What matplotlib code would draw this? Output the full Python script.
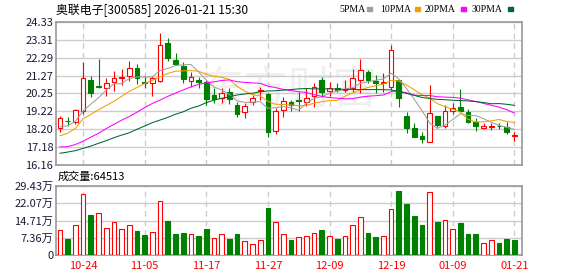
import matplotlib
matplotlib.use("Agg")
import matplotlib.pyplot as plt

plt.rcParams['font.family'] = ['Noto Sans CJK SC', 'DejaVu Sans']

# daily candles, 60 sessions
opens = [18.29, 18.70, 18.63, 19.24, 21.02, 20.68, 20.54, 20.92, 21.13, 21.26,
         21.68, 20.92, 20.83, 20.98, 23.11, 22.16, 21.83, 20.98, 21.02, 20.92,
         20.16, 19.99, 20.31, 19.59, 19.20, 19.78, 20.39, 20.22, 18.10, 19.30,
         19.76, 19.85, 19.78, 20.10, 21.02, 20.39, 20.58, 20.44, 20.58, 21.02,
         21.47, 20.98, 20.83, 20.63, 21.02, 18.98, 18.29, 17.81, 17.49, 18.98,
         18.40, 19.24, 19.45, 19.17, 18.60, 18.26, 18.34, 18.38, 18.31, 17.80]
highs = [18.97, 18.92, 19.38, 22.04, 21.24, 22.20, 21.13, 21.53, 21.64, 22.08,
         21.91, 21.24, 21.24, 23.72, 23.43, 22.58, 22.03, 21.49, 21.20, 21.02,
         20.54, 20.58, 20.54, 19.74, 19.68, 20.16, 20.63, 20.26, 19.40, 20.06,
         19.87, 20.35, 20.54, 20.83, 21.20, 20.92, 20.86, 21.02, 21.63, 22.20,
         21.59, 21.30, 21.43, 23.02, 21.02, 19.20, 18.58, 18.03, 20.73, 18.98,
         19.59, 19.68, 20.50, 19.34, 18.83, 18.54, 18.54, 18.54, 18.63, 18.03]
lows = [18.06, 18.39, 18.49, 19.06, 20.04, 20.58, 20.10, 20.39, 20.73, 20.96,
        20.77, 20.58, 20.12, 20.92, 22.12, 21.87, 20.86, 20.63, 20.56, 19.57,
        19.68, 19.68, 19.64, 18.92, 18.86, 19.59, 19.87, 17.74, 17.95, 18.88,
        19.26, 19.26, 19.53, 19.49, 20.06, 20.10, 20.35, 20.35, 20.35, 20.29,
        20.83, 20.26, 20.35, 20.44, 19.49, 17.99, 17.74, 17.43, 17.49, 18.31,
        18.26, 19.07, 19.24, 18.58, 18.10, 18.22, 18.16, 18.22, 17.93, 17.55]
closes = [18.83, 18.65, 19.30, 21.11, 20.29, 20.64, 20.84, 21.11, 21.17, 21.72,
          21.11, 20.86, 21.11, 23.02, 22.29, 21.93, 21.09, 21.17, 20.92, 19.93,
          19.93, 20.26, 19.93, 19.07, 19.53, 19.97, 20.41, 18.03, 19.26, 19.82,
          19.60, 19.81, 19.97, 20.63, 20.31, 20.58, 20.45, 20.46, 21.11, 21.57,
          21.02, 20.83, 20.85, 22.73, 19.97, 18.29, 17.78, 17.63, 19.11, 18.44,
          19.24, 19.40, 19.24, 18.63, 18.40, 18.39, 18.36, 18.36, 18.06, 17.82]

ma5 = [18.35, 18.40, 18.65, 19.25, 19.64, 20.00, 20.44, 20.80, 20.81, 21.10,
       21.19, 21.19, 21.19, 21.56, 21.68, 21.84, 21.89, 21.90, 21.48, 21.01,
       20.61, 20.44, 20.19, 19.82, 19.74, 19.75, 19.78, 19.40, 19.44, 19.50,
       19.42, 19.30, 19.69, 19.97, 20.06, 20.26, 20.39, 20.49, 20.58, 20.83,
       20.92, 21.00, 21.08, 21.40, 21.08, 20.53, 19.92, 19.28, 18.56, 18.25,
       18.44, 18.76, 19.09, 18.99, 18.98, 18.81, 18.60, 18.43, 18.31, 18.20]
ma10 = [17.83, 17.97, 18.26, 18.80, 19.05, 19.32, 19.55, 19.80, 20.08, 20.37,
        20.59, 20.82, 21.00, 21.19, 21.39, 21.52, 21.54, 21.55, 21.52, 21.34,
        21.23, 21.17, 21.05, 20.65, 20.38, 20.18, 20.11, 19.80, 19.63, 19.62,
        19.59, 19.54, 19.55, 19.70, 19.78, 19.84, 19.85, 20.09, 20.27, 20.45,
        20.59, 20.69, 20.78, 20.99, 20.96, 20.73, 20.46, 20.18, 19.98, 19.67,
        19.49, 19.34, 19.18, 18.77, 18.62, 18.63, 18.68, 18.76, 18.65, 18.59]
ma20 = [17.19, 17.21, 17.33, 17.52, 17.75, 17.97, 18.24, 18.48, 18.72, 18.93,
        19.18, 19.44, 19.68, 19.87, 20.08, 20.27, 20.45, 20.62, 20.77, 20.85,
        20.91, 20.99, 21.02, 20.92, 20.88, 20.85, 20.83, 20.67, 20.58, 20.48,
        20.41, 20.35, 20.30, 20.18, 20.08, 20.01, 19.98, 19.94, 19.95, 20.04,
        20.09, 20.12, 20.16, 20.35, 20.37, 20.29, 20.15, 20.13, 20.13, 20.06,
        20.04, 20.02, 19.98, 19.88, 19.79, 19.68, 19.57, 19.47, 19.32, 19.13]
ma30 = [16.83, 16.90, 16.98, 17.11, 17.24, 17.40, 17.55, 17.72, 17.87, 18.00,
        18.20, 18.39, 18.58, 18.73, 18.88, 19.06, 19.20, 19.40, 19.53, 19.72,
        19.87, 19.97, 20.06, 20.16, 20.22, 20.26, 20.35, 20.39, 20.40, 20.44,
        20.47, 20.51, 20.53, 20.51, 20.51, 20.51, 20.50, 20.48, 20.48, 20.47,
        20.47, 20.47, 20.46, 20.45, 20.37, 20.25, 20.14, 20.02, 19.96, 19.91,
        19.89, 19.86, 19.84, 19.82, 19.78, 19.73, 19.66, 19.67, 19.63, 19.57]

# volume in 万
volumes = [10.5, 6.8, 13.0, 26.2, 17.0, 18.1, 11.7, 13.9, 10.9, 13.0,
           10.2, 8.5, 10.0, 23.2, 14.4, 8.9, 9.5, 8.8, 8.1, 11.0,
           7.1, 8.8, 6.8, 8.9, 5.9, 4.7, 6.2, 19.9, 13.9, 8.8,
           6.4, 7.5, 8.3, 9.2, 10.6, 8.3, 6.8, 7.9, 13.0, 16.0,
           9.5, 7.6, 8.3, 19.8, 27.2, 21.6, 16.5, 12.7, 26.9, 14.0,
           15.1, 11.3, 13.6, 8.9, 8.9, 5.0, 6.2, 5.1, 6.8, 6.4]
vol_up = [1, 0, 1, 1, 0, 1, 1, 1, 1, 1, 0, 0, 1, 1, 0, 0, 0, 1, 0, 0,
          1, 1, 0, 0, 1, 1, 1, 0, 1, 1, 0, 1, 1, 1, 0, 1, 0, 1, 1, 1,
          0, 0, 1, 1, 0, 0, 0, 0, 1, 0, 1, 1, 0, 0, 0, 1, 1, 0, 0, 0]

date_pos = [3, 11, 19, 27, 35, 43, 51, 59]
date_labels = ['10-24', '11-05', '11-17', '11-27', '12-09', '12-19', '01-09', '01-21']
price_ticks = [16.16, 17.18, 18.20, 19.22, 20.25, 21.27, 22.29, 23.31, 24.33]
vol_ticks = [0, 7.36, 14.71, 22.07, 29.43]
vol_labels = ['0', '7.36万', '14.71万', '22.07万', '29.43万']
ma_names = ['5PMA', '10PMA', '20PMA', '30PMA']

RED = '#ff0000'
GREEN = '#008000'
MA_COLORS = ['#a0a0a0', '#f0a000', '#ff00ff', '#006633']
GRID = '#cccccc'
FRAME = '#999999'
W = 578
H = 276

fig = plt.figure(figsize=(W / 100, H / 100), dpi=100)
ax = fig.add_axes([56 / W, 1 - 165 / H, 466 / W, 143 / H])
axv = fig.add_axes([56 / W, 1 - 255 / H, 466 / W, 69 / H])

x = list(range(len(closes)))

# price panel
for i in x:
    up = closes[i] >= opens[i]
    col = RED if up else GREEN
    ax.vlines(i, lows[i], highs[i], color=col, lw=0.8, zorder=3)
    lo = min(opens[i], closes[i])
    h = max(abs(closes[i] - opens[i]), 0.05)
    ax.bar(i, h, bottom=lo, width=0.62, color='white' if up else GREEN,
           edgecolor=col, lw=0.8, zorder=4)

for vals, col in zip([ma5, ma10, ma20, ma30], MA_COLORS):
    ax.plot(x, vals, color=col, lw=0.75, zorder=5)

ax.text(0.5, 0.52, '东方财富', transform=ax.transAxes, ha='center', va='center',
        fontsize=32, color='#f0f0f0', zorder=1)

ax.set_xlim(-0.52, 60.0)
ax.set_ylim(16.16, 24.33)
ax.set_yticks(price_ticks)
ax.set_yticklabels([f'{t:.2f}' for t in price_ticks])
ax.set_xticks(date_pos)
ax.set_xticklabels([])
ax.grid(axis='y', color=GRID, lw=1.0, zorder=0)
ax.grid(axis='x', color=GRID, lw=1.0, ls=(0, (4, 3)), zorder=0)
ax.tick_params(length=0, labelsize=8, labelcolor='#1a1a3a', pad=2)

# volume panel
vcols = [RED if u else GREEN for u in vol_up]
axv.bar(x, volumes, width=0.62, color=['white' if u else GREEN for u in vol_up],
        edgecolor=vcols, lw=0.8, zorder=3)
axv.set_xlim(-0.52, 60.0)
axv.set_ylim(0, 29.43)
axv.set_yticks(vol_ticks)
axv.set_yticklabels(vol_labels)
axv.set_xticks(date_pos)
axv.set_xticklabels(date_labels)
axv.grid(axis='y', color=GRID, lw=1.0, zorder=0)
axv.grid(axis='x', color=GRID, lw=1.0, ls=(0, (4, 3)), zorder=0)
axv.tick_params(axis='y', length=0, labelsize=8, labelcolor='#1a1a3a', pad=2)
axv.tick_params(axis='x', length=0, labelsize=8, labelcolor=RED, pad=4)

for a in (ax, axv):
    for s in a.spines.values():
        s.set_color(FRAME)
        s.set_linewidth(1.2)

# header texts
fig.text(56 / W, 1 - 10 / H, '奥联电子[300585] 2026-01-21 15:30', ha='left', va='center',
         fontsize=8.6, color='black')
fig.text(58 / W, 1 - 177 / H, '成交量:64513', ha='left', va='center', fontsize=8, color='black')

legend_text_x = [339, 380, 425, 472]
legend_box_x = [367, 415, 461, 508]
for name, tx, bx, col in zip(ma_names, legend_text_x, legend_box_x, MA_COLORS):
    fig.text(tx / W, 1 - 9 / H, name, ha='left', va='center', fontsize=7,
             family='Liberation Serif', color='black')
    fig.patches.append(plt.Rectangle((bx / W, 1 - 11 / H), 5 / W, 4 / H,
                                     transform=fig.transFigure, color=col, figure=fig))

fig.savefig('out.png', dpi=100)
